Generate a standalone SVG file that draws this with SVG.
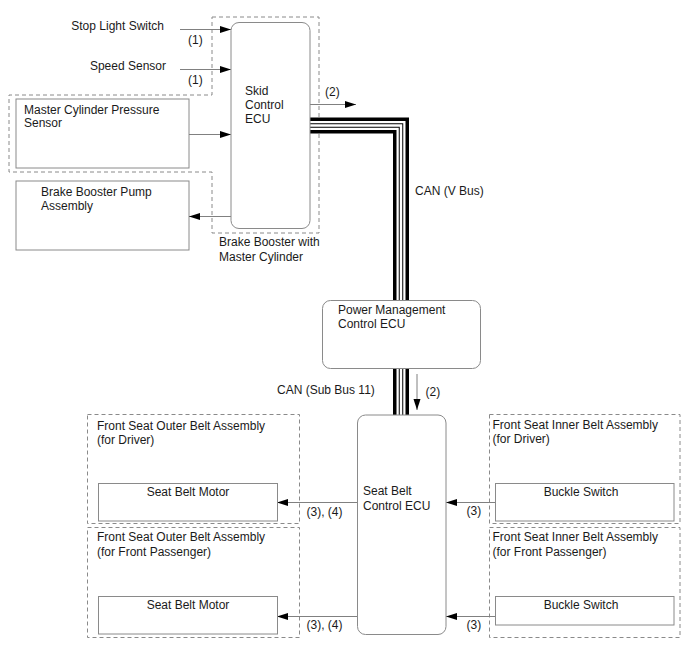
<svg xmlns="http://www.w3.org/2000/svg" width="688" height="658" viewBox="0 0 688 658">
<defs>
<style>
text{font-family:"Liberation Sans",Arial,sans-serif;font-size:12px;fill:#1a1a1a}
.box{fill:#fff;stroke:#8a8a8a;stroke-width:1}
.dash{fill:none;stroke:#8a8a8a;stroke-width:1;stroke-dasharray:4,3}
.ln{fill:none;stroke:#808080;stroke-width:1}
.mid{text-anchor:middle}
.end{text-anchor:end}
</style>
<marker id="ah" markerUnits="userSpaceOnUse" markerWidth="12" markerHeight="8" refX="11" refY="4" orient="auto">
<path d="M0,0.5 L11,4 L0,7.5 Z" fill="#000"/>
</marker>
</defs>
<rect width="688" height="658" fill="#fff"/>

<g id="brake-booster-group">
<path class="dash" d="M212,17 H319 V233 H212 V172 H9 V95 H212 Z"/>
<text x="219" y="246">Brake Booster with</text>
<text x="219" y="260.5">Master Cylinder</text>
</g>

<g id="stop-light-switch"><text class="end" x="164" y="30">Stop Light Switch</text></g>
<g id="speed-sensor"><text class="end" x="166" y="69.5">Speed Sensor</text></g>

<g id="master-cylinder-pressure-sensor">
<rect class="box" x="16" y="99" width="173" height="69"/>
<text x="24" y="113.5">Master Cylinder Pressure</text>
<text x="24" y="127">Sensor</text>
</g>

<g id="brake-booster-pump">
<rect class="box" x="16" y="181" width="173" height="69"/>
<text x="41" y="196">Brake Booster Pump</text>
<text x="41" y="209.5">Assembly</text>
</g>

<g id="outer-driver">
<rect class="dash" x="87.5" y="414.5" width="212" height="109"/>
<text x="97" y="430">Front Seat Outer Belt Assembly</text>
<text x="97" y="444">(for Driver)</text>
</g>
<g id="outer-passenger">
<rect class="dash" x="87.5" y="527.5" width="212" height="110"/>
<text x="97" y="541">Front Seat Outer Belt Assembly</text>
<text x="97" y="555.5">(for Front Passenger)</text>
</g>
<g id="inner-driver">
<rect class="dash" x="489.5" y="414.5" width="190.5" height="109"/>
<text x="492.5" y="429">Front Seat Inner Belt Assembly</text>
<text x="492.5" y="443">(for Driver)</text>
</g>
<g id="inner-passenger">
<rect class="dash" x="489.5" y="527.5" width="190.5" height="110"/>
<text x="492.5" y="541">Front Seat Inner Belt Assembly</text>
<text x="492.5" y="555.5">(for Front Passenger)</text>
</g>

<g id="connectors">
<line class="ln" x1="180" y1="29.5" x2="231" y2="29.5" marker-end="url(#ah)"/>
<text x="188" y="43.5">(1)</text>
<line class="ln" x1="180" y1="69.5" x2="231" y2="69.5" marker-end="url(#ah)"/>
<text x="188" y="83.5">(1)</text>
<line class="ln" x1="189" y1="134.5" x2="231" y2="134.5" marker-end="url(#ah)"/>
<line class="ln" x1="231" y1="216.5" x2="189" y2="216.5" marker-end="url(#ah)"/>
<line class="ln" x1="310" y1="104.5" x2="356" y2="104.5" marker-end="url(#ah)"/>
<text x="325" y="96">(2)</text>

<g id="can-v-bus" fill="none" stroke-linejoin="miter">
<path d="M310,125.5 H401 V301" stroke="#000" stroke-width="16"/>
<path d="M310,125.5 H401 V301" stroke="#fff" stroke-width="9"/>
<path d="M310,125.5 H401 V301" stroke="#000" stroke-width="4.5"/>
<path d="M310,125.5 H401 V301" stroke="#fff" stroke-width="2.5"/>
</g>
<text x="415" y="195">CAN (V Bus)</text>

<g id="can-sub-bus" fill="none">
<path d="M401,368 V415" stroke="#000" stroke-width="16"/>
<path d="M401,368 V415" stroke="#fff" stroke-width="9"/>
<path d="M401,368 V415" stroke="#000" stroke-width="4.5"/>
<path d="M401,368 V415" stroke="#fff" stroke-width="2.5"/>
</g>
<text x="277" y="394">CAN (Sub Bus 11)</text>
<line class="ln" x1="417" y1="374" x2="417" y2="410" marker-end="url(#ah)"/>
<text x="425.5" y="396">(2)</text>

<line class="ln" x1="357" y1="502.5" x2="277" y2="502.5" marker-end="url(#ah)"/>
<text x="306.5" y="516">(3), (4)</text>
<line class="ln" x1="357" y1="616.5" x2="277" y2="616.5" marker-end="url(#ah)"/>
<text x="306.5" y="628.5">(3), (4)</text>
<line class="ln" x1="495" y1="502.5" x2="446" y2="502.5" marker-end="url(#ah)"/>
<text x="466.5" y="515">(3)</text>
<line class="ln" x1="495" y1="616.5" x2="446" y2="616.5" marker-end="url(#ah)"/>
<text x="466.5" y="628.5">(3)</text>
</g>

<g id="skid-control-ecu">
<rect class="box" x="231" y="22.5" width="79" height="206" rx="8"/>
<text x="245" y="94.5">Skid</text>
<text x="245" y="108.5">Control</text>
<text x="245" y="122.5">ECU</text>
</g>

<g id="power-management-ecu">
<rect class="box" x="322.5" y="300.5" width="158" height="68" rx="8"/>
<text x="338" y="313.5">Power Management</text>
<text x="338" y="328">Control ECU</text>
</g>

<g id="seat-belt-ecu">
<rect class="box" x="357.5" y="415" width="88.5" height="219.5" rx="8"/>
<text x="363" y="495">Seat Belt</text>
<text x="363" y="509.5">Control ECU</text>
</g>

<g id="seat-belt-motor-driver">
<rect class="box" x="98.5" y="483.5" width="179" height="37.5"/>
<text class="mid" x="188" y="496">Seat Belt Motor</text>
</g>
<g id="seat-belt-motor-passenger">
<rect class="box" x="98.5" y="596.5" width="179" height="37.5"/>
<text class="mid" x="188" y="609">Seat Belt Motor</text>
</g>
<g id="buckle-switch-driver">
<rect class="box" x="495.5" y="483.5" width="178.5" height="37.5"/>
<text class="mid" x="581" y="496">Buckle Switch</text>
</g>
<g id="buckle-switch-passenger">
<rect class="box" x="495.5" y="596.5" width="178.5" height="28.5"/>
<text class="mid" x="581" y="609">Buckle Switch</text>
</g>
</svg>
